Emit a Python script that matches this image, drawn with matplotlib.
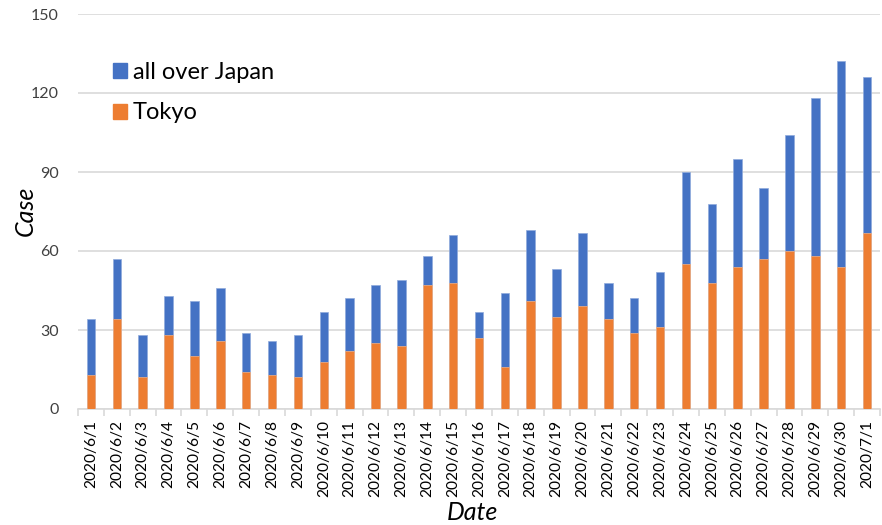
import matplotlib
matplotlib.use("Agg")
import matplotlib.pyplot as plt
from matplotlib.patches import Patch
import numpy as np

plt.rcParams['font.family'] = ['Lato', 'DejaVu Sans']

dates = ["2020/6/1", "2020/6/2", "2020/6/3", "2020/6/4", "2020/6/5", "2020/6/6",
         "2020/6/7", "2020/6/8", "2020/6/9", "2020/6/10", "2020/6/11", "2020/6/12",
         "2020/6/13", "2020/6/14", "2020/6/15", "2020/6/16", "2020/6/17", "2020/6/18",
         "2020/6/19", "2020/6/20", "2020/6/21", "2020/6/22", "2020/6/23", "2020/6/24",
         "2020/6/25", "2020/6/26", "2020/6/27", "2020/6/28", "2020/6/29", "2020/6/30",
         "2020/7/1"]
japan = [34, 57, 28, 43, 41, 46, 29, 26, 28, 37, 42, 47, 49, 58, 66, 37, 44, 68,
         53, 67, 48, 42, 52, 90, 78, 95, 84, 104, 118, 132, 126]
tokyo = [13, 34, 12, 28, 20, 26, 14, 13, 12, 18, 22, 25, 24, 47, 48, 27, 16, 41,
         35, 39, 34, 29, 31, 55, 48, 54, 57, 60, 58, 54, 67]
yticks = [0, 30, 60, 90, 120, 150]

BLUE = "#4472C4"
ORANGE = "#ED7D31"
GRID = "#D9D9D9"

fig = plt.figure(figsize=(8.82, 5.25), dpi=100)
ax = fig.add_axes([78 / 882, 1 - 409 / 525, (880 - 78) / 882, (409 - 14) / 525])

x = np.arange(len(dates))
w = 0.33
ax.bar(x, japan, width=w, color=BLUE, edgecolor="#8FAADC", linewidth=0.5, zorder=3)
ax.bar(x, tokyo, width=w, color=ORANGE, edgecolor="#F4B183", linewidth=0.5, zorder=4)

ax.set_xlim(-0.5, len(dates) - 0.5)
ax.set_ylim(0, 150)
ax.set_yticks(yticks)
ax.set_yticklabels([str(v) for v in yticks], fontsize=11.5, color="#404040")
ax.tick_params(axis="y", length=0, pad=14)
ax.yaxis.grid(True, color=GRID, linewidth=1.2, zorder=0)

ax.set_xticks(x)
ax.set_xticklabels(dates, rotation=90, fontsize=11.2, color="#000000")
ax.tick_params(axis="x", which="major", length=0, pad=8)
ax.set_xticks(np.arange(-0.5, len(dates), 1.0), minor=True)
ax.tick_params(axis="x", which="minor", length=5, color=GRID, width=1.2)

for s in ["top", "right", "left"]:
    ax.spines[s].set_visible(False)
ax.spines["bottom"].set_color(GRID)
ax.spines["bottom"].set_linewidth(1.2)

fig.text(25 / 882, 1 - 211 / 525, "Case", rotation=90, fontsize=18, style="italic",
         ha="center", va="center")
fig.text(472 / 882, 1 - 513 / 525, "Date", fontsize=18, style="italic",
         ha="center", va="center")

handles = [Patch(facecolor=BLUE, edgecolor=BLUE), Patch(facecolor=ORANGE, edgecolor=ORANGE)]
fig.legend(handles, ["all over Japan", "Tokyo"], loc="upper left",
           bbox_to_anchor=(113 / 882, 1 - 62 / 525), frameon=False, fontsize=17,
           borderpad=0, borderaxespad=0,
           handlelength=0.6, handleheight=0.6, handletextpad=0.25, labelspacing=0.82)

fig.savefig("out.png", dpi=100)
